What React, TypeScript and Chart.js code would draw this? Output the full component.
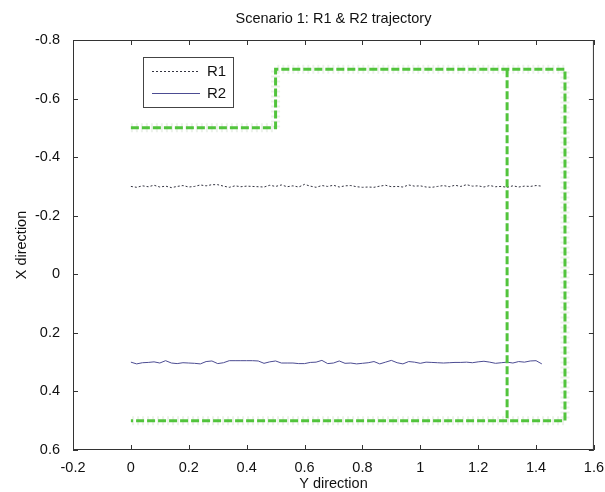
import { useEffect, useRef } from "react";
import { Chart, registerables } from "chart.js";

Chart.register(...registerables);

const FONT = "'Liberation Sans', Arial, Helvetica, sans-serif";

const TITLE = "Scenario 1: R1 & R2 trajectory";
const X_TITLE = "Y direction";
const Y_TITLE = "X direction";
const LEGEND_LABELS = ["R1", "R2"];

const X_MIN = -0.2;
const X_MAX = 1.6;
const Y_MIN = -0.8;
const Y_MAX = 0.6;
const TICK_STEP = 0.2;

// robot positions along Y direction
const posX = [
  0.0, 0.02, 0.04, 0.06, 0.08, 0.1, 0.12, 0.14, 0.16, 0.18, 0.2, 0.22,
  0.24, 0.26, 0.28, 0.3, 0.32, 0.34, 0.36, 0.38, 0.4, 0.42, 0.44, 0.46,
  0.48, 0.5, 0.52, 0.54, 0.56, 0.58, 0.6, 0.62, 0.64, 0.66, 0.68, 0.7,
  0.72, 0.74, 0.76, 0.78, 0.8, 0.82, 0.84, 0.86, 0.88, 0.9, 0.92, 0.94,
  0.96, 0.98, 1.0, 1.02, 1.04, 1.06, 1.08, 1.1, 1.12, 1.14, 1.16, 1.18,
  1.2, 1.22, 1.24, 1.26, 1.28, 1.3, 1.32, 1.34, 1.36, 1.38, 1.4, 1.42,
];

const r1Y = [
  -0.300, -0.297, -0.302, -0.299, -0.304, -0.298, -0.301, -0.296, -0.300, -0.303, -0.298, -0.300,
  -0.305, -0.302, -0.306, -0.306, -0.301, -0.297, -0.302, -0.299, -0.301, -0.300, -0.299, -0.298,
  -0.304, -0.300, -0.305, -0.299, -0.302, -0.298, -0.307, -0.301, -0.297, -0.303, -0.300, -0.304,
  -0.298, -0.302, -0.303, -0.299, -0.297, -0.298, -0.297, -0.301, -0.304, -0.299, -0.300, -0.298,
  -0.305, -0.301, -0.302, -0.298, -0.297, -0.300, -0.303, -0.299, -0.304, -0.300, -0.306, -0.301,
  -0.302, -0.298, -0.303, -0.299, -0.300, -0.297, -0.302, -0.298, -0.301, -0.300, -0.303, -0.301,
];

const r2Y = [
  0.300, 0.306, 0.302, 0.301, 0.299, 0.303, 0.295, 0.303, 0.305, 0.302, 0.303, 0.304,
  0.306, 0.298, 0.296, 0.305, 0.302, 0.295, 0.295, 0.295, 0.295, 0.295, 0.296, 0.304,
  0.299, 0.296, 0.303, 0.303, 0.303, 0.305, 0.305, 0.301, 0.300, 0.294, 0.305, 0.303,
  0.296, 0.304, 0.303, 0.306, 0.304, 0.302, 0.298, 0.306, 0.300, 0.294, 0.302, 0.306,
  0.298, 0.300, 0.304, 0.300, 0.301, 0.302, 0.303, 0.302, 0.301, 0.301, 0.300, 0.302,
  0.299, 0.297, 0.300, 0.304, 0.302, 0.300, 0.303, 0.298, 0.300, 0.296, 0.295, 0.306,
];

// reference path (green dashed)
const pathX = [0, 0.5, 0.5, 1.5, 1.5, 0];
const pathY = [-0.5, -0.5, -0.7, -0.7, 0.5, 0.5];
const branchX = [1.3, 1.3];
const branchY = [-0.7, 0.5];

const GREEN = "#52c43c";
const R1_COLOR = "#333340";
const R2_COLOR = "#4c4c92";
const AXIS_COLOR = "#333333";
const TEXT_SIZE = 14.5;

const zip = (xs: number[], ys: number[]) => xs.map((x, i) => ({ x, y: ys[i] }));
const fmt = (v: number) => String(parseFloat(Number(v).toFixed(1)));

const framePlugin = {
  id: "frame",
  afterDraw(chart: any) {
    const { ctx, chartArea: a, scales } = chart;
    ctx.save();
    ctx.strokeStyle = AXIS_COLOR;
    ctx.lineWidth = 1;
    ctx.strokeRect(a.left + 0.5, a.top + 0.5, a.right - a.left - 1, a.bottom - a.top - 1);
    const tl = 5;
    ctx.beginPath();
    scales.x.ticks.forEach((t: any) => {
      const px = Math.round(scales.x.getPixelForValue(t.value)) + 0.5;
      ctx.moveTo(px, a.bottom);
      ctx.lineTo(px, a.bottom - tl);
      ctx.moveTo(px, a.top);
      ctx.lineTo(px, a.top + tl);
    });
    scales.y.ticks.forEach((t: any) => {
      const py = Math.round(scales.y.getPixelForValue(t.value)) + 0.5;
      ctx.moveTo(a.left, py);
      ctx.lineTo(a.left + tl, py);
      ctx.moveTo(a.right, py);
      ctx.lineTo(a.right - tl, py);
    });
    ctx.stroke();

    // title
    ctx.fillStyle = "#111";
    ctx.font = `${TEXT_SIZE}px ${FONT}`;
    ctx.textAlign = "center";
    ctx.textBaseline = "middle";
    ctx.fillText(TITLE, (a.left + a.right) / 2, 19);

    // legend box
    const lx = 143, ly = 57, lw = 90, lh = 50;
    ctx.fillStyle = "#fff";
    ctx.fillRect(lx, ly, lw, lh);
    ctx.strokeStyle = "#444";
    ctx.strokeRect(lx + 0.5, ly + 0.5, lw, lh);
    const rows = [ly + 14, ly + 36];
    ctx.lineWidth = 1;
    ctx.strokeStyle = R1_COLOR;
    ctx.setLineDash([2, 2]);
    ctx.beginPath();
    ctx.moveTo(152, rows[0] + 0.5);
    ctx.lineTo(200, rows[0] + 0.5);
    ctx.stroke();
    ctx.setLineDash([]);
    ctx.strokeStyle = R2_COLOR;
    ctx.beginPath();
    ctx.moveTo(152, rows[1] + 0.5);
    ctx.lineTo(200, rows[1] + 0.5);
    ctx.stroke();
    ctx.fillStyle = "#111";
    ctx.font = `15px ${FONT}`;
    ctx.textAlign = "left";
    ctx.fillText(LEGEND_LABELS[0], 207, rows[0] + 1);
    ctx.fillText(LEGEND_LABELS[1], 207, rows[1] + 1);
    ctx.restore();
  },
};

export default function App() {
  const ref = useRef<HTMLCanvasElement | null>(null);
  useEffect(() => {
    if (!ref.current) return;
    const chart = new Chart(ref.current, {
      type: "scatter",
      data: {
        datasets: [
          {
            label: "path",
            data: zip(pathX, pathY),
            showLine: true,
            borderColor: GREEN,
            borderWidth: 3,
            borderDash: [8, 3],
            pointRadius: 0,
            order: 0,
          } as any,
          {
            label: "branch",
            data: zip(branchX, branchY),
            showLine: true,
            borderColor: GREEN,
            borderWidth: 3,
            borderDash: [8, 3],
            pointRadius: 0,
            order: 0,
          },
          {
            label: "pathHalo",
            data: zip(pathX, pathY),
            showLine: true,
            borderColor: "rgba(200,215,195,0.35)",
            borderWidth: 9,
            borderDash: [2, 3],
            pointRadius: 0,
            order: 3,
          },
          {
            label: "R1",
            data: zip(posX, r1Y),
            showLine: true,
            borderColor: R1_COLOR,
            borderWidth: 1,
            borderDash: [2, 2],
            pointRadius: 0,
            order: 1,
          },
          {
            label: "R2",
            data: zip(posX, r2Y),
            showLine: true,
            borderColor: R2_COLOR,
            borderWidth: 1,
            pointRadius: 0,
            order: 1,
          },
        ],
      },
      options: {
        responsive: false,
        animation: false,
        layout: { padding: { top: 40, right: 11, left: 0, bottom: 0 } },
        plugins: {
          legend: { display: false },
          tooltip: { enabled: false },
          title: { display: false },
        },
        scales: {
          x: {
            type: "linear",
            min: X_MIN,
            max: X_MAX,
            ticks: {
              stepSize: TICK_STEP,
              callback: (v: any) => fmt(v),
              font: { family: FONT, size: TEXT_SIZE },
              color: "#111",
              padding: 1,
              maxRotation: 0,
              autoSkip: false,
            },
            grid: { display: false },
            border: { display: false },
            title: {
              display: true,
              text: X_TITLE,
              font: { family: FONT, size: TEXT_SIZE },
              color: "#111",
              padding: { top: 0, bottom: -1 },
            },
            afterFit: (s: any) => {
              s.height = 42;
            },
          },
          y: {
            type: "linear",
            min: Y_MIN,
            max: Y_MAX,
            reverse: true,
            ticks: {
              stepSize: TICK_STEP,
              callback: (v: any) => fmt(v),
              font: { family: FONT, size: TEXT_SIZE },
              color: "#111",
              padding: 5,
              autoSkip: false,
            },
            grid: { display: false },
            border: { display: false },
            title: {
              display: true,
              text: Y_TITLE,
              font: { family: FONT, size: TEXT_SIZE },
              color: "#111",
              padding: { top: 13, bottom: 0 },
            },
            afterFit: (s: any) => {
              s.width = 73;
            },
          },
        },
      } as any,
      plugins: [framePlugin],
    });
    return () => chart.destroy();
  }, []);

  return (
    <div style={{ position: "fixed", left: 0, top: 0, width: 605, height: 492, background: "#fff" }}>
      <canvas ref={ref} width={605} height={492} />
    </div>
  );
}
